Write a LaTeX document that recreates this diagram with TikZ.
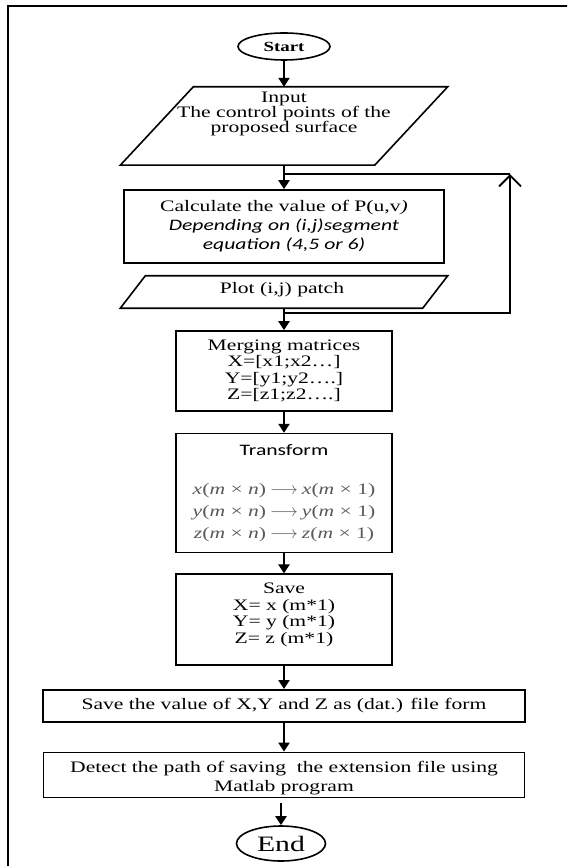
\documentclass[tikz,border=0pt]{standalone}
\usepackage{fontspec}
\setmainfont[FakeStretch=1.35]{Liberation Serif}
\newfontfamily\calibri[FakeStretch=1.35]{Carlito}
\usetikzlibrary{shapes.geometric, arrows.meta, positioning, calc}

% parallelogram round the frame of a node: name, slant
\newcommand{\drawio}[2]{\draw[line width=1.6pt] ([xshift=#2]#1.north west) -- (#1.north east)
    -- ([xshift=-#2]#1.south east) -- (#1.south west) -- cycle;}
\newcommand{\maplong}{\hspace{4pt}$\longrightarrow$\hspace{4pt}}

\begin{document}
\begin{tikzpicture}[
            x=1pt, y=-1pt,
            node distance=22pt,
            every node/.style={inner sep=0pt, font=\fontsize{16}{16.5}\selectfont},
            term/.style   ={ellipse, draw=black, line width=1.6pt},
            box/.style    ={rectangle, draw=black, line width=1.6pt, align=center},
            io/.style     ={rectangle, align=center},
            arrow/.style  ={-{Triangle[length=9pt, width=11pt]}, line width=2.2pt},
            loopline/.style={line width=1.8pt}
        ]
        \clip (0,0) rectangle (567,866);
        \draw[line width=2.6pt] (8,6) rectangle (620,920);

        \node[term, minimum width=92pt, minimum height=27pt,
              font=\fontsize{14}{14}\selectfont\bfseries] (start) at (284,46.5) {Start};
        \node[io, below=26pt of start, minimum width=327pt, minimum height=78pt,
              label={[align=center, yshift=12pt, font=\fontsize{16}{15}\selectfont]center:Input\\The control points of the\\proposed surface}] (input) {};
        \node[box, below=24pt of input, minimum width=320pt, minimum height=73pt,
              font=\fontsize{16}{19}\selectfont] (calc)
              {Calculate the value of P(u,v\textit{)}\\{\calibri\itshape Depending on (i,j)segment}\\{\calibri\itshape equation (4,5 or 6)}};
        \node[io, below=12pt of calc, minimum width=327pt, minimum height=32pt,
              label={[yshift=2pt, xshift=-2pt]center:Plot (i,j) patch}] (plot) {};
        \node[box, below=22pt of plot, minimum width=216pt, minimum height=80pt] (merge)
              {Merging matrices\\X=[x1;x2…]\\Y=[y1;y2….]\\Z=[z1;z2….]};
        \node[box, below=21pt of merge, minimum width=216pt, minimum height=119pt,
              font=\fontsize{16}{22}\selectfont] (transform)
              {{\calibri Transform}\\[17pt]
               \textcolor{black!65}{\textit{x}(\textit{m} × \textit{n})\maplong\textit{x}(\textit{m} × 1)}\\
               \textcolor{black!65}{\textit{y}(\textit{m} × \textit{n})\maplong\textit{y}(\textit{m} × 1)}\\
               \textcolor{black!65}{\textit{z}(\textit{m} × \textit{n})\maplong\textit{z}(\textit{m} × 1)}};
        \node[box, below=20pt of transform, minimum width=216pt, minimum height=91pt,
              label={[align=center, yshift=5pt]center:Save\\X= x (m*1)\\Y= y (m*1)\\Z= z (m*1)}] (save) {};
        \node[box, below=23pt of save, minimum width=482pt, minimum height=32pt] (savev)
              {Save the value of X,Y and Z as (dat.) file form};
        \node[box, below=29pt of savev, minimum width=481pt, minimum height=45pt,
              label={[align=center, yshift=-3pt, font=\fontsize{16}{19}\selectfont]center:Detect the path of saving~ the extension file using\\Matlab program}] (detect) {};
        \node[term, below=27pt of detect, xshift=-3pt, minimum width=89pt, minimum height=35pt,
              font=\fontsize{22}{22}\selectfont] (stop) {End};

        \drawio{input}{73pt}
        \drawio{plot}{25pt}

        \draw[arrow] (start)     -- (input);
        \draw[arrow] (input)     -- (calc);
        \draw[arrow] (plot)      -- (merge);
        \draw[arrow] (merge)     -- (transform);
        \draw[arrow] (transform) -- (save);
        \draw[arrow] (save)      -- (savev);
        \draw[arrow] (savev)     -- (detect);
        \draw[arrow, shorten <=5pt] (detect.south -| stop) -- (stop);

        % repeat loop for every patch
        \coordinate (jin)   at ($(input.south)+(0,9)$);
        \coordinate (jplot) at ($(plot.south)+(0,5)$);
        \coordinate (loopr) at ($(jplot)+(226,0)$);
        \draw[loopline, -{Straight Barb[length=11pt, width=22pt]}] (jplot) -- (loopr) -- (loopr |- jin);
        \draw[loopline] (loopr |- jin) -- (jin);
        \end{tikzpicture}
\end{document}
